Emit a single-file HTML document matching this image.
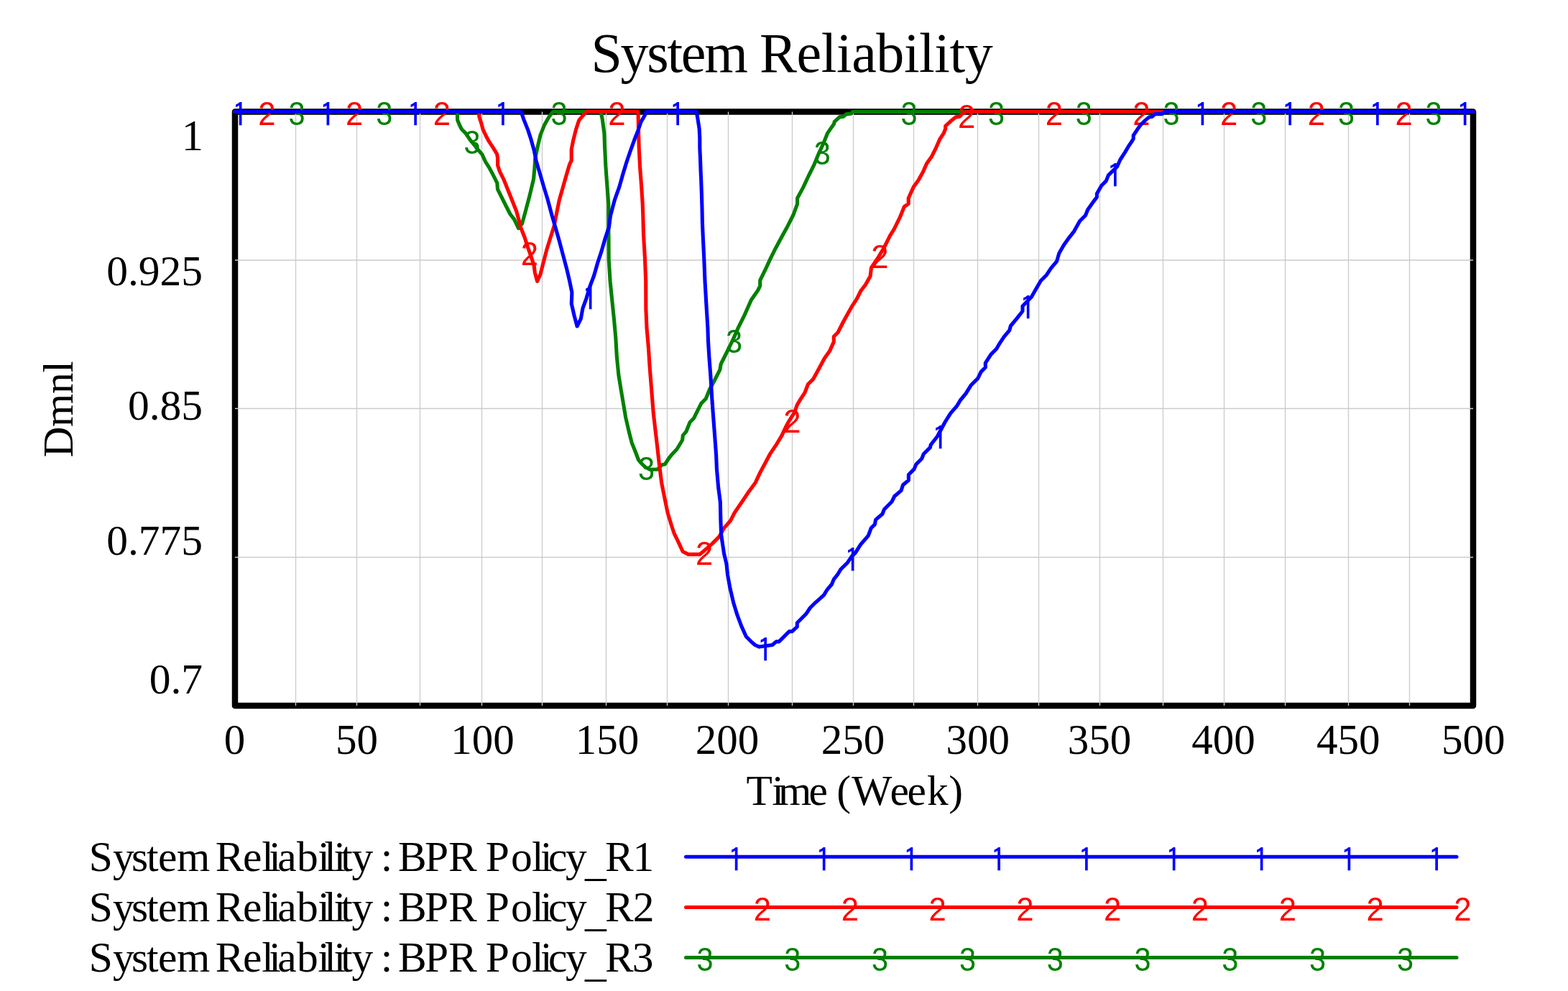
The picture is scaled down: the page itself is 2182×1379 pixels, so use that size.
<!DOCTYPE html><html><head><meta charset="utf-8"><title>System Reliability</title><style>html,body{margin:0;padding:0;background:#fff;}svg{display:block;}</style></head><body>
<svg width="2182" height="1379" viewBox="0 0 2182 1379">
<rect x="0" y="0" width="2182" height="1379" fill="#fff"/>
<text x="822.5" y="99.9" font-family="'Liberation Serif','Times New Roman',serif" font-size="78" textLength="218.3" lengthAdjust="spacing">System</text>
<text x="1056.9" y="99.9" font-family="'Liberation Serif','Times New Roman',serif" font-size="78" textLength="324.9" lengthAdjust="spacing">Reliability</text>
<rect x="327" y="155.5" width="1723" height="826.5" fill="none" stroke="#000" stroke-width="8.5" stroke-linejoin="round"/>
<path d="M411.5 155.5V982M496.5 155.5V982M584.5 155.5V982M670.5 155.5V982M754.5 155.5V982M843.5 155.5V982M928.5 155.5V982M1013.5 155.5V982M1102.5 155.5V982M1187.5 155.5V982M1271.5 155.5V982M1360.5 155.5V982M1445.5 155.5V982M1530.5 155.5V982M1618.5 155.5V982M1703.5 155.5V982M1788.5 155.5V982M1876.5 155.5V982M1961.5 155.5V982M327 362.0H2050M327 568.5H2050M327 775.5H2050" stroke="#cccccc" stroke-width="1.35" fill="none"/>
<text x="283" y="208.7" font-family="'Liberation Serif','Times New Roman',serif" font-size="60.5" text-anchor="end">1</text>
<text x="282" y="396.8" font-family="'Liberation Serif','Times New Roman',serif" font-size="59.5" text-anchor="end">0.925</text>
<text x="282" y="584.4" font-family="'Liberation Serif','Times New Roman',serif" font-size="59.5" text-anchor="end">0.85</text>
<text x="282" y="772.2" font-family="'Liberation Serif','Times New Roman',serif" font-size="59.5" text-anchor="end">0.775</text>
<text x="282" y="965.2" font-family="'Liberation Serif','Times New Roman',serif" font-size="59.5" text-anchor="end">0.7</text>
<text x="326.4" y="1048.8" font-family="'Liberation Serif','Times New Roman',serif" font-size="59" text-anchor="middle">0</text>
<text x="496.4" y="1048.8" font-family="'Liberation Serif','Times New Roman',serif" font-size="59" text-anchor="middle">50</text>
<text x="671.6" y="1048.8" font-family="'Liberation Serif','Times New Roman',serif" font-size="59" text-anchor="middle">100</text>
<text x="845" y="1048.8" font-family="'Liberation Serif','Times New Roman',serif" font-size="59" text-anchor="middle">150</text>
<text x="1012" y="1048.8" font-family="'Liberation Serif','Times New Roman',serif" font-size="59" text-anchor="middle">200</text>
<text x="1187" y="1048.8" font-family="'Liberation Serif','Times New Roman',serif" font-size="59" text-anchor="middle">250</text>
<text x="1360.7" y="1048.8" font-family="'Liberation Serif','Times New Roman',serif" font-size="59" text-anchor="middle">300</text>
<text x="1530" y="1048.8" font-family="'Liberation Serif','Times New Roman',serif" font-size="59" text-anchor="middle">350</text>
<text x="1702.4" y="1048.8" font-family="'Liberation Serif','Times New Roman',serif" font-size="59" text-anchor="middle">400</text>
<text x="1876.3" y="1048.8" font-family="'Liberation Serif','Times New Roman',serif" font-size="59" text-anchor="middle">450</text>
<text x="2050.3" y="1048.8" font-family="'Liberation Serif','Times New Roman',serif" font-size="59" text-anchor="middle">500</text>
<text x="1038.5 1074.3 1082.9 1125.5 1150 1164.2 1185.2 1238.5 1262.6 1290.1 1320.3" y="1120" font-family="'Liberation Serif','Times New Roman',serif" font-size="59.5">Time (Week)</text>
<text transform="translate(101,636.6) rotate(-90)" font-family="'Liberation Serif','Times New Roman',serif" font-size="59.5" textLength="134.5" lengthAdjust="spacing">Dmnl</text>
<polyline points="327,155.5 636.3,155.5 636.6,167 639.5,174 642.4,179.8 648.2,185.6 654,194.3 661,203 665.6,208.8 670.8,214.6 675.5,225 681,233.6 686.7,244.4 691.8,254.6 692.5,263.3 698.3,274.9 704.1,286.5 710,298 715.7,305.4 721.5,317.7 726.6,311.2 731.7,292.3 737.5,270.5 742.6,248.8 744,232.8 744.7,221.2 747.6,206.7 752,187.9 757.8,173.4 763.6,163.2 769.4,155.5 836,155.5 838.3,166.1 840.9,185.7 841.6,205.3 842.9,231.4 844.8,257.5 846.8,283.6 846.8,303.1 847.2,361.3 849.1,391.4 851.7,417.5 854.4,443.6 856.8,470 858.3,496.1 860.9,522.2 864.1,541.8 867.4,561.4 870.7,581 875.2,600.5 879.2,616.2 884,628 888.5,640 891.3,643.5 897.9,650 904.4,653.3 914.8,653.3 921.3,646.8 925.3,646.1 930.3,638.4 934.4,633.1 941.8,625.3 945,620 949.6,612.3 950.3,605.8 954.9,600.5 960.1,587.5 965.3,582.3 970.5,571.8 975.8,561.4 982.3,554.8 987.5,541.8 994,530 1001.9,514.4 1003.2,506.5 1009.7,493.5 1014.9,483.1 1020,472.6 1027,456.7 1036.1,438.4 1045.3,417.5 1054.4,404.5 1057.7,397.9 1057.7,390.1 1064.8,375.7 1071.4,361.4 1079.2,345.7 1088.3,328.7 1096.2,314.4 1104.2,298.5 1109.6,283.6 1109.6,275.8 1117.4,261.4 1125.3,244.5 1133.1,228.8 1139.6,213.1 1146.2,198.8 1151.4,185.7 1156.6,177.9 1160.5,172.6 1161.2,169.4 1168.3,162.9 1173.6,162.2 1177.5,158.9 1184,158.3 1186.6,155.5 2050,155.5" fill="none" stroke="#008000" stroke-width="5.1" stroke-linejoin="round" stroke-linecap="round"/>
<text x="0" y="0" font-family="'Liberation Sans',Arial,sans-serif" font-size="46" fill="#008000" text-anchor="middle" transform="translate(413.0 174.0) scale(0.9 1)">3</text>
<text x="0" y="0" font-family="'Liberation Sans',Arial,sans-serif" font-size="46" fill="#008000" text-anchor="middle" transform="translate(534.7 174.0) scale(0.9 1)">3</text>
<text x="0" y="0" font-family="'Liberation Sans',Arial,sans-serif" font-size="46" fill="#008000" text-anchor="middle" transform="translate(657.0 213.7) scale(0.9 1)">3</text>
<text x="0" y="0" font-family="'Liberation Sans',Arial,sans-serif" font-size="46" fill="#008000" text-anchor="middle" transform="translate(778.1 174.0) scale(0.9 1)">3</text>
<text x="0" y="0" font-family="'Liberation Sans',Arial,sans-serif" font-size="46" fill="#008000" text-anchor="middle" transform="translate(899.5 668.0) scale(0.9 1)">3</text>
<text x="0" y="0" font-family="'Liberation Sans',Arial,sans-serif" font-size="46" fill="#008000" text-anchor="middle" transform="translate(1021.5 491.0) scale(0.9 1)">3</text>
<text x="0" y="0" font-family="'Liberation Sans',Arial,sans-serif" font-size="46" fill="#008000" text-anchor="middle" transform="translate(1144.2 229.2) scale(0.9 1)">3</text>
<text x="0" y="0" font-family="'Liberation Sans',Arial,sans-serif" font-size="46" fill="#008000" text-anchor="middle" transform="translate(1264.9 174.0) scale(0.9 1)">3</text>
<text x="0" y="0" font-family="'Liberation Sans',Arial,sans-serif" font-size="46" fill="#008000" text-anchor="middle" transform="translate(1386.6 174.0) scale(0.9 1)">3</text>
<text x="0" y="0" font-family="'Liberation Sans',Arial,sans-serif" font-size="46" fill="#008000" text-anchor="middle" transform="translate(1508.3 174.0) scale(0.9 1)">3</text>
<text x="0" y="0" font-family="'Liberation Sans',Arial,sans-serif" font-size="46" fill="#008000" text-anchor="middle" transform="translate(1630.0 174.0) scale(0.9 1)">3</text>
<text x="0" y="0" font-family="'Liberation Sans',Arial,sans-serif" font-size="46" fill="#008000" text-anchor="middle" transform="translate(1751.7 174.0) scale(0.9 1)">3</text>
<text x="0" y="0" font-family="'Liberation Sans',Arial,sans-serif" font-size="46" fill="#008000" text-anchor="middle" transform="translate(1873.4 174.0) scale(0.9 1)">3</text>
<text x="0" y="0" font-family="'Liberation Sans',Arial,sans-serif" font-size="46" fill="#008000" text-anchor="middle" transform="translate(1995.1 174.0) scale(0.9 1)">3</text>
<polyline points="327,155.5 666.5,155.5 666.8,162.4 669.7,171.1 672,179.8 676,188.5 680.7,197.2 686.5,205.9 691.7,214.6 692.6,220.4 692.6,230 695.4,238.6 701.2,250.2 707,264.7 712.8,279.3 718.6,293.8 722,306 724.8,317 730,330 734.6,344.4 739.2,357.4 743.1,369.2 744.4,379.6 747.6,391.4 752.2,380.9 756.1,365.3 761.3,345.7 766.6,328.7 771.1,314.4 773.5,302 778.3,278.3 783.5,260.1 788.7,241.8 792.6,228.7 795.2,223.5 795.2,207.9 797.8,194.8 801.8,179.2 805.7,167.4 812.2,159.6 816.1,155.5 888,155.5 888.5,179.2 889.2,205.3 890.5,231.4 892.5,257.5 894.2,283.6 894.8,300 895.5,326.1 897.4,358.7 898.7,391.4 898.9,430.5 900,456.6 901.2,470 902.5,485 904,509.2 906.6,541.8 909.2,574.4 911.8,597 914.5,620 917.4,646.1 920.7,672.2 924.6,691.8 929.2,714 934.4,731 938.3,742.7 943.5,753.1 950.1,767.5 957.9,771.4 973.6,771.4 980.1,766.2 990.5,757.1 1001,746.6 1007.5,734.9 1016.6,724.4 1021.9,714 1027.1,706.2 1033.1,697.5 1041.8,684.4 1051.3,671.4 1057.4,658.3 1064.4,645.3 1071.3,632.2 1080,619.2 1087.9,606.1 1094,593.1 1098.2,585.6 1105.5,574 1109.1,563.8 1114.2,555.1 1120,546.4 1124.3,534.8 1131.6,527.6 1138.8,514.5 1147.4,498.5 1154.5,488.6 1160.3,475.6 1160.3,468.3 1166.1,462.5 1173.4,448 1180.6,434.9 1186.4,424.8 1192.2,416.1 1198,404.5 1203.8,397.2 1211.1,384.2 1212.5,372.5 1221.3,359.5 1230,345 1238.7,327.6 1244.2,318.9 1252.5,302 1258.3,287.6 1264.2,283.6 1264.2,275.8 1271.3,260.1 1277.9,251 1284.4,239.2 1289.6,227.5 1296.2,218.3 1302.7,205.3 1307.9,193.5 1313.1,185.7 1315.7,179.2 1315.7,175.3 1323.6,168.1 1330.1,162.9 1335.3,162.2 1339.2,158.3 1344.5,155.5 2050,155.5" fill="none" stroke="#ff0000" stroke-width="5.1" stroke-linejoin="round" stroke-linecap="round"/>
<text x="0" y="0" font-family="'Liberation Sans',Arial,sans-serif" font-size="46" fill="#ff0000" text-anchor="middle" transform="translate(371.5 174.0) scale(0.95 1)">2</text>
<text x="0" y="0" font-family="'Liberation Sans',Arial,sans-serif" font-size="46" fill="#ff0000" text-anchor="middle" transform="translate(493.2 174.0) scale(0.95 1)">2</text>
<text x="0" y="0" font-family="'Liberation Sans',Arial,sans-serif" font-size="46" fill="#ff0000" text-anchor="middle" transform="translate(614.9 174.0) scale(0.95 1)">2</text>
<text x="0" y="0" font-family="'Liberation Sans',Arial,sans-serif" font-size="46" fill="#ff0000" text-anchor="middle" transform="translate(736.9 368.9) scale(0.95 1)">2</text>
<text x="0" y="0" font-family="'Liberation Sans',Arial,sans-serif" font-size="46" fill="#ff0000" text-anchor="middle" transform="translate(858.3 174.0) scale(0.95 1)">2</text>
<text x="0" y="0" font-family="'Liberation Sans',Arial,sans-serif" font-size="46" fill="#ff0000" text-anchor="middle" transform="translate(980.1 786.1) scale(0.95 1)">2</text>
<text x="0" y="0" font-family="'Liberation Sans',Arial,sans-serif" font-size="46" fill="#ff0000" text-anchor="middle" transform="translate(1102.5 602.0) scale(0.95 1)">2</text>
<text x="0" y="0" font-family="'Liberation Sans',Arial,sans-serif" font-size="46" fill="#ff0000" text-anchor="middle" transform="translate(1224.5 373.0) scale(0.95 1)">2</text>
<text x="0" y="0" font-family="'Liberation Sans',Arial,sans-serif" font-size="46" fill="#ff0000" text-anchor="middle" transform="translate(1345.1 177.9) scale(0.95 1)">2</text>
<text x="0" y="0" font-family="'Liberation Sans',Arial,sans-serif" font-size="46" fill="#ff0000" text-anchor="middle" transform="translate(1466.8 174.0) scale(0.95 1)">2</text>
<text x="0" y="0" font-family="'Liberation Sans',Arial,sans-serif" font-size="46" fill="#ff0000" text-anchor="middle" transform="translate(1588.5 174.0) scale(0.95 1)">2</text>
<text x="0" y="0" font-family="'Liberation Sans',Arial,sans-serif" font-size="46" fill="#ff0000" text-anchor="middle" transform="translate(1710.2 174.0) scale(0.95 1)">2</text>
<text x="0" y="0" font-family="'Liberation Sans',Arial,sans-serif" font-size="46" fill="#ff0000" text-anchor="middle" transform="translate(1831.9 174.0) scale(0.95 1)">2</text>
<text x="0" y="0" font-family="'Liberation Sans',Arial,sans-serif" font-size="46" fill="#ff0000" text-anchor="middle" transform="translate(1953.6 174.0) scale(0.95 1)">2</text>
<polyline points="327,155.5 725.2,155.5 728.8,166.1 734.6,180.6 738.9,193.7 743.3,209.6 746.2,224.1 750.5,238.6 756.4,258.9 762.2,277.8 768,299.6 773.1,317 778.3,335.2 783.5,354.8 788.7,374.4 792.7,391.4 795.9,407 795.3,422.7 799.2,439.6 803.1,454 808.3,443.6 810.9,429.2 816.1,414.8 820.7,399.2 826.6,383.5 831.8,365.3 837,349.6 842.3,331.3 847.5,315.7 849.5,300 855.3,278.3 861.8,260.1 867,241.8 872.2,224.8 877.5,209.2 882.7,194.8 887.9,181.8 891.8,170 897,160.9 899.6,155.5 969.2,155.5 971.1,166.1 973.1,179.2 973.8,192.2 973.8,205.3 974.4,218.3 975.1,237.9 975.7,251 976.4,270.5 977,290.1 977.4,310 978.4,332.6 979.7,358.7 981,391.4 982.9,424 984.9,456.6 985.5,475 986.8,496.1 988.8,522.2 990.8,554.8 992.7,581 994.7,607.1 996.6,633.2 997.4,652.6 999.7,678.7 1002.3,698.3 1002.9,724.4 1003.6,744 1007.5,770.1 1011,785 1012.5,799.6 1016.1,819.2 1020.7,838.7 1025.9,855.7 1031.8,871.4 1038.3,885.7 1044.8,892.3 1050.7,897.5 1056.6,900.1 1065.7,898.8 1074.8,897.5 1080.1,892.9 1084,892.9 1091.8,885.1 1098.3,878.6 1102.3,878.6 1109.3,872.2 1109.3,866.7 1121.7,854.3 1127.2,846 1135.5,837.8 1146.5,828.1 1150.6,821.2 1157.5,813 1160.3,806.1 1165.8,799.2 1169.9,792.3 1179.6,782.7 1185.1,774.4 1190.6,768.9 1197.5,757.9 1208.3,745.3 1212.2,734.8 1217.4,729.6 1218.7,723.1 1227.9,715.3 1230.5,708.7 1240.9,698.3 1244.8,690.5 1254,682.6 1256.6,674.8 1264.4,668.3 1264.4,660.5 1272.2,652.6 1274.8,646.1 1282.7,638.3 1285.3,631.7 1294.4,622.6 1295.2,619 1304.4,607.2 1315,587.5 1322.6,575.3 1331.8,564.6 1336.3,557 1343.9,547.9 1351.5,535.7 1360.7,526.6 1365.2,517.4 1371.3,511.3 1371.3,505.2 1379,493.1 1386.6,485.5 1391.1,477.8 1397.2,468.7 1404.8,459.6 1406.4,453.5 1414,444.4 1423,433 1423,426 1435.5,413 1441.9,401.8 1448.3,390.7 1456.3,382.7 1462.6,373.1 1470.6,363.6 1473.8,352.4 1480.2,341.2 1488.2,330.1 1494.5,322.1 1502.5,307.7 1510.5,299.8 1513.7,291.8 1521.7,280.6 1526.4,274.2 1526.4,269.5 1532.8,258.3 1539.2,251.9 1542.4,243.9 1554.5,232 1559,222 1565.4,212.1 1570.8,203 1574.5,197.6 1577.2,193 1577.2,188.5 1582.6,180.3 1587.1,174 1593.5,167.6 1598.9,163.1 1603.5,162.2 1607.1,158.6 1617.1,158.6 1620.7,155.5 2050,155.5" fill="none" stroke="#0000ff" stroke-width="5.1" stroke-linejoin="round" stroke-linecap="round"/>
<text x="334.1" y="176.2" font-family="IPAGothic,'Liberation Sans',sans-serif" font-size="45" fill="#0000ff" text-anchor="middle">1</text>
<text x="455.8" y="176.2" font-family="IPAGothic,'Liberation Sans',sans-serif" font-size="45" fill="#0000ff" text-anchor="middle">1</text>
<text x="577.5" y="176.2" font-family="IPAGothic,'Liberation Sans',sans-serif" font-size="45" fill="#0000ff" text-anchor="middle">1</text>
<text x="699.2" y="176.2" font-family="IPAGothic,'Liberation Sans',sans-serif" font-size="45" fill="#0000ff" text-anchor="middle">1</text>
<text x="821.1" y="431.7" font-family="IPAGothic,'Liberation Sans',sans-serif" font-size="45" fill="#0000ff" text-anchor="middle">1</text>
<text x="942.6" y="176.2" font-family="IPAGothic,'Liberation Sans',sans-serif" font-size="45" fill="#0000ff" text-anchor="middle">1</text>
<text x="1064.6" y="921.2" font-family="IPAGothic,'Liberation Sans',sans-serif" font-size="45" fill="#0000ff" text-anchor="middle">1</text>
<text x="1186.1" y="796.2" font-family="IPAGothic,'Liberation Sans',sans-serif" font-size="45" fill="#0000ff" text-anchor="middle">1</text>
<text x="1308.0" y="625.8" font-family="IPAGothic,'Liberation Sans',sans-serif" font-size="45" fill="#0000ff" text-anchor="middle">1</text>
<text x="1430.1" y="445.0" font-family="IPAGothic,'Liberation Sans',sans-serif" font-size="45" fill="#0000ff" text-anchor="middle">1</text>
<text x="1551.2" y="261.0" font-family="IPAGothic,'Liberation Sans',sans-serif" font-size="45" fill="#0000ff" text-anchor="middle">1</text>
<text x="1672.8" y="176.2" font-family="IPAGothic,'Liberation Sans',sans-serif" font-size="45" fill="#0000ff" text-anchor="middle">1</text>
<text x="1794.5" y="176.2" font-family="IPAGothic,'Liberation Sans',sans-serif" font-size="45" fill="#0000ff" text-anchor="middle">1</text>
<text x="1916.2" y="176.2" font-family="IPAGothic,'Liberation Sans',sans-serif" font-size="45" fill="#0000ff" text-anchor="middle">1</text>
<text x="2037.9" y="176.2" font-family="IPAGothic,'Liberation Sans',sans-serif" font-size="45" fill="#0000ff" text-anchor="middle">1</text>
<text x="123.8 157 183 204 219.9 246.1" y="1211.8" font-family="'Liberation Serif','Times New Roman',serif" font-size="59.5">System</text>
<text x="299.8 337.9 364.2 374.2 386.2 413.1 442.3 451.3 464.4 474.2 489.5" y="1211.8" font-family="'Liberation Serif','Times New Roman',serif" font-size="59.5">Reliability</text>
<text x="529.8" y="1211.8" font-family="'Liberation Serif','Times New Roman',serif" font-size="59.5">:</text>
<text x="554 590.9 624" y="1211.8" font-family="'Liberation Serif','Times New Roman',serif" font-size="59.5">BPR</text>
<text x="675.8 710.9 740 751.9 762.9 787 814 842.1 880.6" y="1211.8 1211.8 1211.8 1211.8 1211.8 1211.8 1218.0 1211.8 1211.8" font-family="'Liberation Serif','Times New Roman',serif" font-size="59.5">Policy_R1</text>
<line x1="954.5" y1="1192.2" x2="2027" y2="1192.2" stroke="#0000ff" stroke-width="5" stroke-linecap="round"/>
<text x="1024.1" y="1213.0" font-family="IPAGothic,'Liberation Sans',sans-serif" font-size="45" fill="#0000ff" text-anchor="middle">1</text>
<text x="1145.9" y="1213.0" font-family="IPAGothic,'Liberation Sans',sans-serif" font-size="45" fill="#0000ff" text-anchor="middle">1</text>
<text x="1267.7" y="1213.0" font-family="IPAGothic,'Liberation Sans',sans-serif" font-size="45" fill="#0000ff" text-anchor="middle">1</text>
<text x="1389.5" y="1213.0" font-family="IPAGothic,'Liberation Sans',sans-serif" font-size="45" fill="#0000ff" text-anchor="middle">1</text>
<text x="1511.3" y="1213.0" font-family="IPAGothic,'Liberation Sans',sans-serif" font-size="45" fill="#0000ff" text-anchor="middle">1</text>
<text x="1633.1" y="1213.0" font-family="IPAGothic,'Liberation Sans',sans-serif" font-size="45" fill="#0000ff" text-anchor="middle">1</text>
<text x="1754.9" y="1213.0" font-family="IPAGothic,'Liberation Sans',sans-serif" font-size="45" fill="#0000ff" text-anchor="middle">1</text>
<text x="1876.7" y="1213.0" font-family="IPAGothic,'Liberation Sans',sans-serif" font-size="45" fill="#0000ff" text-anchor="middle">1</text>
<text x="1998.5" y="1213.0" font-family="IPAGothic,'Liberation Sans',sans-serif" font-size="45" fill="#0000ff" text-anchor="middle">1</text>
<text x="123.8 157 183 204 219.9 246.1" y="1281.7" font-family="'Liberation Serif','Times New Roman',serif" font-size="59.5">System</text>
<text x="299.8 337.9 364.2 374.2 386.2 413.1 442.3 451.3 464.4 474.2 489.5" y="1281.7" font-family="'Liberation Serif','Times New Roman',serif" font-size="59.5">Reliability</text>
<text x="529.8" y="1281.7" font-family="'Liberation Serif','Times New Roman',serif" font-size="59.5">:</text>
<text x="554 590.9 624" y="1281.7" font-family="'Liberation Serif','Times New Roman',serif" font-size="59.5">BPR</text>
<text x="675.8 710.9 740 751.9 762.9 787 814 842.1 880.8" y="1281.7 1281.7 1281.7 1281.7 1281.7 1281.7 1287.9 1281.7 1281.7" font-family="'Liberation Serif','Times New Roman',serif" font-size="59.5">Policy_R2</text>
<line x1="954.5" y1="1262.4" x2="2027" y2="1262.4" stroke="#ff0000" stroke-width="5" stroke-linecap="round"/>
<text x="0" y="0" font-family="'Liberation Sans',Arial,sans-serif" font-size="46" fill="#ff0000" text-anchor="middle" transform="translate(1061.0 1281.0) scale(0.95 1)">2</text>
<text x="0" y="0" font-family="'Liberation Sans',Arial,sans-serif" font-size="46" fill="#ff0000" text-anchor="middle" transform="translate(1182.8 1281.0) scale(0.95 1)">2</text>
<text x="0" y="0" font-family="'Liberation Sans',Arial,sans-serif" font-size="46" fill="#ff0000" text-anchor="middle" transform="translate(1304.6 1281.0) scale(0.95 1)">2</text>
<text x="0" y="0" font-family="'Liberation Sans',Arial,sans-serif" font-size="46" fill="#ff0000" text-anchor="middle" transform="translate(1426.4 1281.0) scale(0.95 1)">2</text>
<text x="0" y="0" font-family="'Liberation Sans',Arial,sans-serif" font-size="46" fill="#ff0000" text-anchor="middle" transform="translate(1548.2 1281.0) scale(0.95 1)">2</text>
<text x="0" y="0" font-family="'Liberation Sans',Arial,sans-serif" font-size="46" fill="#ff0000" text-anchor="middle" transform="translate(1670.0 1281.0) scale(0.95 1)">2</text>
<text x="0" y="0" font-family="'Liberation Sans',Arial,sans-serif" font-size="46" fill="#ff0000" text-anchor="middle" transform="translate(1791.8 1281.0) scale(0.95 1)">2</text>
<text x="0" y="0" font-family="'Liberation Sans',Arial,sans-serif" font-size="46" fill="#ff0000" text-anchor="middle" transform="translate(1913.6 1281.0) scale(0.95 1)">2</text>
<text x="0" y="0" font-family="'Liberation Sans',Arial,sans-serif" font-size="46" fill="#ff0000" text-anchor="middle" transform="translate(2035.4 1281.0) scale(0.95 1)">2</text>
<text x="123.8 157 183 204 219.9 246.1" y="1351.9" font-family="'Liberation Serif','Times New Roman',serif" font-size="59.5">System</text>
<text x="299.8 337.9 364.2 374.2 386.2 413.1 442.3 451.3 464.4 474.2 489.5" y="1351.9" font-family="'Liberation Serif','Times New Roman',serif" font-size="59.5">Reliability</text>
<text x="529.8" y="1351.9" font-family="'Liberation Serif','Times New Roman',serif" font-size="59.5">:</text>
<text x="554 590.9 624" y="1351.9" font-family="'Liberation Serif','Times New Roman',serif" font-size="59.5">BPR</text>
<text x="675.8 710.9 740 751.9 762.9 787 814 842.1 879.8" y="1351.9 1351.9 1351.9 1351.9 1351.9 1351.9 1358.1000000000001 1351.9 1351.9" font-family="'Liberation Serif','Times New Roman',serif" font-size="59.5">Policy_R3</text>
<line x1="954.5" y1="1332.4" x2="2027" y2="1332.4" stroke="#008000" stroke-width="5" stroke-linecap="round"/>
<text x="0" y="0" font-family="'Liberation Sans',Arial,sans-serif" font-size="46" fill="#008000" text-anchor="middle" transform="translate(981.0 1351.0) scale(0.9 1)">3</text>
<text x="0" y="0" font-family="'Liberation Sans',Arial,sans-serif" font-size="46" fill="#008000" text-anchor="middle" transform="translate(1102.8 1351.0) scale(0.9 1)">3</text>
<text x="0" y="0" font-family="'Liberation Sans',Arial,sans-serif" font-size="46" fill="#008000" text-anchor="middle" transform="translate(1224.6 1351.0) scale(0.9 1)">3</text>
<text x="0" y="0" font-family="'Liberation Sans',Arial,sans-serif" font-size="46" fill="#008000" text-anchor="middle" transform="translate(1346.4 1351.0) scale(0.9 1)">3</text>
<text x="0" y="0" font-family="'Liberation Sans',Arial,sans-serif" font-size="46" fill="#008000" text-anchor="middle" transform="translate(1468.2 1351.0) scale(0.9 1)">3</text>
<text x="0" y="0" font-family="'Liberation Sans',Arial,sans-serif" font-size="46" fill="#008000" text-anchor="middle" transform="translate(1590.0 1351.0) scale(0.9 1)">3</text>
<text x="0" y="0" font-family="'Liberation Sans',Arial,sans-serif" font-size="46" fill="#008000" text-anchor="middle" transform="translate(1711.8 1351.0) scale(0.9 1)">3</text>
<text x="0" y="0" font-family="'Liberation Sans',Arial,sans-serif" font-size="46" fill="#008000" text-anchor="middle" transform="translate(1833.6 1351.0) scale(0.9 1)">3</text>
<text x="0" y="0" font-family="'Liberation Sans',Arial,sans-serif" font-size="46" fill="#008000" text-anchor="middle" transform="translate(1955.4 1351.0) scale(0.9 1)">3</text>
</svg></body></html>
